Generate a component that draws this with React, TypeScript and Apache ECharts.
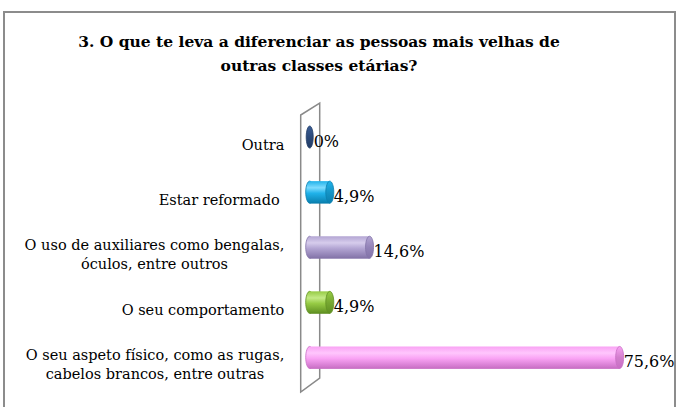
import React, { useEffect, useRef } from "react";
import * as echarts from "echarts";

const titleLines = ["3. O que te leva a diferenciar as pessoas mais velhas de", "outras classes etárias?"];
const categories = [
  "Outra",
  "Estar reformado ",
  "O uso de auxiliares como bengalas,\nóculos, entre outros",
  "O seu comportamento",
  "O seu aspeto físico, como as rugas,\ncabelos brancos, entre outras",
];
const values = [0, 4.9, 14.6, 4.9, 75.6];
const valueLabels = ["0%", "4,9%", "14,6%", "4,9%", "75,6%"];

// [top-light, mid, bottom-dark, cap]
const palette = [
  ["#5a7cb4", "#3b5d95", "#223c66", "#2c4a7a"],
  ["#7fdcff", "#20b2ea", "#0a7fae", "#1594c6"],
  ["#d6ccec", "#b3a5d3", "#8373a8", "#9383b8"],
  ["#c4ea86", "#96cb44", "#5f8f22", "#77a832"],
  ["#ffc6fd", "#f9a2f4", "#c86ec4", "#d27fcd"],
];

const FONT = "DejaVu Serif";

export default function App() {
  const ref = useRef<HTMLDivElement>(null);
  useEffect(() => {
    if (!ref.current) return;
    const chart = echarts.init(ref.current, null, { renderer: "svg" });
    const canvas = document.createElement("canvas");
    const ctx = canvas.getContext("2d")!;

    // fit font sizes to the reference text widths
    ctx.font = `bold 18px "${FONT}"`;
    const tw = ctx.measureText(titleLines[0]).width || 560;
    const titleSize = Math.max(12, Math.min(18, Math.round((18 * 478) / tw * 2) / 2));
    ctx.font = `18px "${FONT}"`;
    const lw = ctx.measureText("O uso de auxiliares como bengalas,").width || 310;
    const labelSize = Math.max(12, Math.min(17, Math.round((18 * 263) / lw * 2) / 2));

    ctx.font = `${labelSize}px "${FONT}"`;
    const rich: any = {};
    categories.forEach((c, i) => {
      const w = Math.max(...c.split("\n").map((l) => ctx.measureText(l).width));
      rich["r" + i] = {
        width: Math.ceil(w) + 1,
        align: "center",
        fontSize: labelSize,
        fontFamily: FONT,
        lineHeight: 19,
        color: "#000",
      };
    });

    const option: any = {
      animation: false,
      backgroundColor: "#fff",
      textStyle: { fontFamily: FONT },
      title: {
        text: titleLines.join("\n"),
        left: 314,
        top: 24,
        textAlign: "center",
        textStyle: {
          fontFamily: FONT,
          fontWeight: "bold",
          fontSize: titleSize,
          lineHeight: 24,
          color: "#000",
        },
      },
      graphic: [
        {
          type: "rect",
          shape: { x: 4, y: 12, width: 671, height: 420 },
          style: { fill: "none", stroke: "#8c8c8c", lineWidth: 2 },
          silent: true,
        },
      ],
      grid: { left: 312.7, top: 109.5, right: 36.3, bottom: 22 },
      xAxis: { type: "value", min: 0, max: 80, show: false },
      yAxis: {
        type: "category",
        inverse: true,
        data: categories,
        axisLine: { show: false },
        axisTick: { show: false },
        splitLine: { show: false },
        axisLabel: {
          margin: 27.7,
          padding: [15, 0, 0, 0],
          fontFamily: FONT,
          formatter: (val: string, idx: number) =>
            val
              .split("\n")
              .map((l) => `{r${idx}|${l}}`)
              .join("\n"),
          rich,
        },
      },
      series: [
        {
          type: "custom",
          z: 1,
          data: [[0, 0]],
          encode: { x: 0, y: 1 },
          renderItem: (params: any) => {
            const cs = params.coordSys;
            const front = cs.x - 12;
            const back = cs.x + 7;
            return {
              type: "polygon",
              shape: {
                points: [
                  [back, cs.y - 6.5],
                  [back, cs.y + cs.height - 7],
                  [front, cs.y + cs.height + 7],
                  [front, cs.y + 5.5],
                ],
              },
              style: { fill: "none", stroke: "#8a8a8a", lineWidth: 1.5 },
            };
          },
        },
        {
          type: "custom",
          z: 2,
          data: values.map((v, i) => [v, i]),
          encode: { x: 0, y: 1 },
          renderItem: (params: any, api: any) => {
            const i = params.dataIndex;
            const v = api.value(0);
            const p0 = api.coord([0, i]);
            const p1 = api.coord([v, i]);
            const h = api.size([0, 1])[1] * 0.4;
            const cy = p0[1];
            const rx = v === 0 ? 3.5 : 4;
            const xa = p0[0] - 3;
            const xb = p1[0] - 3;
            const c = palette[i];
            const bodyGrad = new echarts.graphic.LinearGradient(0, 0, 0, 1, [
              { offset: 0, color: c[1] },
              { offset: 0.3, color: c[0] },
              { offset: 0.55, color: c[1] },
              { offset: 1, color: c[2] },
            ]);
            const capGrad = new echarts.graphic.LinearGradient(0, 0, 0, 1, [
              { offset: 0, color: c[1] },
              { offset: 0.5, color: c[3] },
              { offset: 1, color: c[2] },
            ]);
            const children: any[] = [
              {
                type: "ellipse",
                shape: { cx: xa, cy, rx, ry: h / 2 },
                style: { fill: bodyGrad, stroke: c[2], lineWidth: 0.8 },
              },
            ];
            if (xb > xa) {
              children.push({
                type: "rect",
                shape: { x: xa, y: cy - h / 2, width: xb - xa, height: h },
                style: { fill: bodyGrad },
              });
              children.push({
                type: "line",
                shape: { x1: xa, y1: cy + h / 2, x2: xb, y2: cy + h / 2 },
                style: { stroke: c[2], lineWidth: 0.8 },
              });
              children.push({
                type: "ellipse",
                shape: { cx: xb, cy, rx, ry: h / 2 },
                style: { fill: capGrad, stroke: c[2], lineWidth: 0.8 },
              });
            } else {
              children[0].style = { fill: capGrad, stroke: c[2], lineWidth: 0.8 };
            }
            children.push({
              type: "text",
              style: {
                text: valueLabels[i],
                x: p1[0] + 1,
                y: cy + 4,
                fontSize: 16,
                fontFamily: FONT,
                fill: "#000",
                align: "left",
                verticalAlign: "middle",
              },
            });
            return { type: "group", children };
          },
        },
      ],
    };
    chart.setOption(option);
    return () => chart.dispose();
  }, []);
  return (
    <div
      ref={ref}
      style={{ position: "absolute", left: 0, top: 0, width: 677, height: 407 }}
    />
  );
}
